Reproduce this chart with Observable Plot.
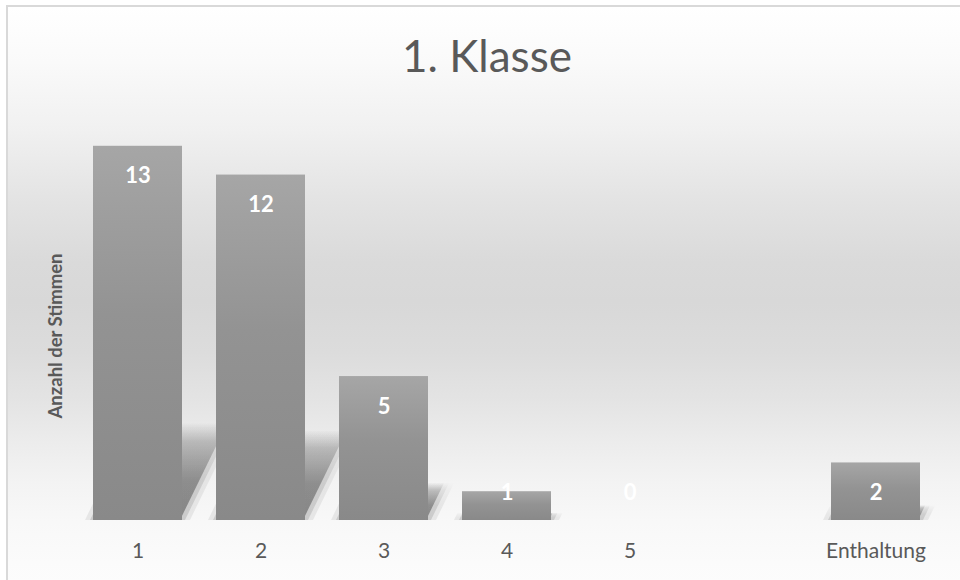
<!DOCTYPE html>
<html>
<head>
<meta charset="utf-8">
<script src="https://cdn.jsdelivr.net/npm/d3@7"></script>
<script src="https://cdn.jsdelivr.net/npm/@observablehq/plot@0.6"></script>
<style>
  html, body { margin: 0; padding: 0; background: #fff; }
  #chart { position: relative; width: 960px; height: 580px; overflow: hidden; background: #fff; font-family: Lato, "Open Sans", sans-serif; }
  #frame { position: absolute; left: 6px; top: 5px; width: 990px; height: 600px; border: 2px solid #d9d9d9; box-sizing: border-box;
    background: linear-gradient(to bottom, #ffffff 0px, #fafafa 55px, #f0f0f0 125px, #e3e3e3 195px, #dadada 255px, #d8d8d8 295px, #dcdcdc 345px, #e4e4e4 395px, #ececec 435px, #f3f3f3 475px, #f8f8f8 515px, #fbfbfb 555px, #fdfdfd 600px); }
  #title { position: absolute; left: 0; width: 974px; top: 33px; text-align: center; font-size: 44px; line-height: 1; font-weight: 400; color: #595959; white-space: nowrap; }
  #ylabel { position: absolute; left: 55px; top: 336px; transform: translate(-50%, -50%) rotate(-90deg); font-size: 18.5px; font-weight: bold; color: #595959; white-space: nowrap; }
  #chart svg { position: absolute; left: 0; top: 0; }
</style>
</head>
<body>
<div id="chart">
  <div id="frame"></div>
  <div id="title"></div>
  <div id="ylabel"></div>
</div>
<script>
const chartTitle = "1. Klasse";
const yLabel = "Anzahl der Stimmen";
const categories = ["1", "2", "3", "4", "5", "", "Enthaltung"];
const votes = [13, 12, 5, 1, 0, null, 2];

const data = categories
  .map((c, i) => ({category: c, votes: votes[i]}))
  .filter(d => d.votes != null);

document.getElementById("title").textContent = chartTitle;
document.getElementById("ylabel").textContent = yLabel;

// soft perspective shadow: a few translucent, fading copies of the same bars
const shadowLayers = [
  {inset: 2, id: "shadowA"},
  {inset: -3, id: "shadowB"},
  {inset: -8, id: "shadowC"}
];
const shadowMarks = shadowLayers.map(L =>
  Plot.barY(data, {x: "category", y: "votes", fill: `url(#${L.id})`,
    insetLeft: L.inset, insetRight: L.inset})
);

const plot = Plot.plot({
  width: 960,
  height: 580,
  marginLeft: 74,
  marginRight: 22,
  marginTop: 117,
  marginBottom: 60,
  style: {background: "transparent", fontFamily: "Lato, 'Open Sans', sans-serif", fontSize: "21px", color: "#595959", overflow: "visible"},
  x: {domain: categories, paddingInner: 0.28, paddingOuter: 0.14, label: null},
  y: {domain: [0, 14], axis: null},
  marks: [
    ...shadowMarks,
    Plot.barY(data, {x: "category", y: "votes", fill: "url(#barGrad)"}),
    Plot.text(data, {x: "category", y: d => Math.max(d.votes, 2), dy: 30, text: d => String(d.votes), fill: "white", fontWeight: "bold", fontSize: 22}),
    Plot.axisX({tickSize: 0, tickPadding: 23, label: null, tickFormat: d => d})
  ]
});

const svg = d3.select(plot);
const defs = svg.insert("defs", ":first-child");
const grad = defs.append("linearGradient").attr("id", "barGrad").attr("x1", 0).attr("y1", 0).attr("x2", 0).attr("y2", 1);
grad.append("stop").attr("offset", "0").attr("stop-color", "#a6a6a6");
grad.append("stop").attr("offset", "0.45").attr("stop-color", "#939393");
grad.append("stop").attr("offset", "1").attr("stop-color", "#898989");

function shadowGradient(id, maxOpacity) {
  const g = defs.append("linearGradient").attr("id", id).attr("x1", 0).attr("y1", 0).attr("x2", 0).attr("y2", 1);
  g.append("stop").attr("offset", "0").attr("stop-color", "#000").attr("stop-opacity", 0);
  g.append("stop").attr("offset", "0.2").attr("stop-color", "#000").attr("stop-opacity", maxOpacity * 0.45);
  g.append("stop").attr("offset", "0.6").attr("stop-color", "#000").attr("stop-opacity", maxOpacity * 0.9);
  g.append("stop").attr("offset", "1").attr("stop-color", "#000").attr("stop-opacity", maxOpacity);
}
shadowGradient("shadowA", 0.34);
shadowGradient("shadowB", 0.12);
shadowGradient("shadowC", 0.07);

const y0 = plot.scale("y").apply(0);
const barGroups = plot.querySelectorAll("g[aria-label='bar']");
shadowLayers.forEach((L, i) => {
  barGroups[i].querySelectorAll("rect").forEach(r => {
    r.setAttribute("transform", `translate(0,${y0}) skewX(-26) scale(1,0.26) translate(0,${-y0})`);
  });
});

document.getElementById("chart").appendChild(plot);
</script>
</body>
</html>
